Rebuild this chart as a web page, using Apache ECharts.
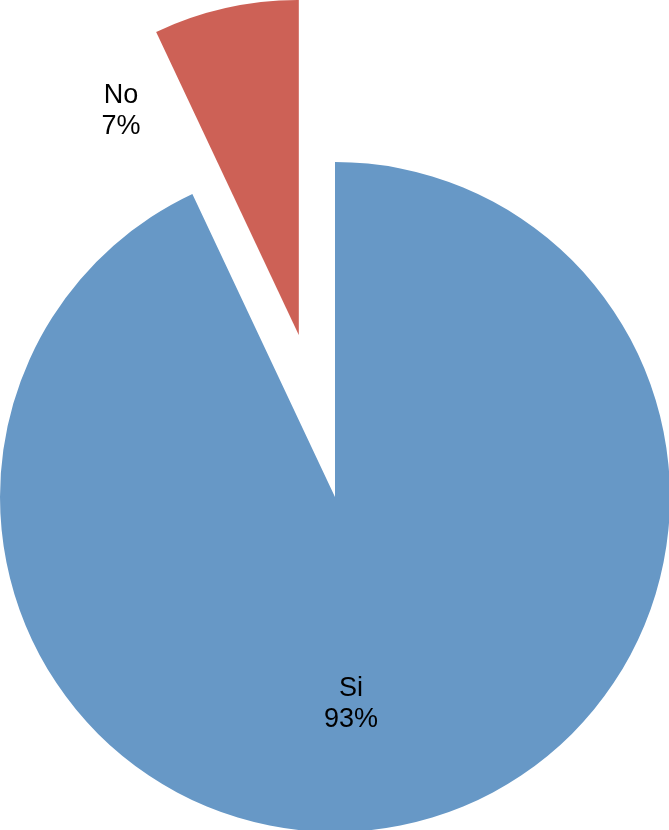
<!DOCTYPE html>
<html>
<head>
<meta charset="utf-8">
<script src="https://cdn.jsdelivr.net/npm/echarts@6/dist/echarts.min.js"></script>
<style>html,body{margin:0;padding:0;background:#fff;}#c{width:669px;height:830px;}</style>
</head>
<body>
<div id="c"></div>
<script>
const categories = ['Si', 'No'];
const values = [93, 7];
const colors = ['#6798C6', '#CD6156'];
const exploded = [false, true];

const labelSpots = [[351, 704], [121, 111]];

const CENTER = [335, 497];
const RADIUS = 335;
const EXPLODE = 166;

const total = values.reduce((a, b) => a + b, 0);
// mid-angle (clockwise from 12 o'clock) of each slice
let acc = 0;
const midAngles = values.map(v => { const m = (acc + v / 2) / total * 2 * Math.PI; acc += v; return m; });

function seriesFor(idx) {
  const off = exploded[idx] ? EXPLODE : 0;
  const c = [CENTER[0] + off * Math.sin(midAngles[idx]), CENTER[1] - off * Math.cos(midAngles[idx])];
  return {
    type: 'pie',
    center: c,
    radius: RADIUS,
    startAngle: 90,
    clockwise: true,
    silent: true,
    emphasis: {disabled: true},
    data: categories.map((name, i) => ({
      name: name, value: values[i],
      itemStyle: {color: i === idx ? colors[i] : 'rgba(0,0,0,0)'},
      label: {show: i === idx}
    })),
    label: {
      show: true,
      position: 'inside',
      formatter: p => p.name + '\n' + Math.round(p.percent) + '%',
      color: '#000',
      fontFamily: 'Liberation Sans, Arial, sans-serif',
      fontSize: 27,
      lineHeight: 31,
      align: 'center'
    },
    labelLine: {show: false},
    labelLayout: function (params) {
      const s = labelSpots[params.dataIndex];
      return {x: s[0], y: s[1], align: 'center', verticalAlign: 'middle'};
    }
  };
}

const chart = echarts.init(document.getElementById('c'), null, {renderer: 'canvas'});
chart.setOption({
  animation: false,
  backgroundColor: '#ffffff',
  series: categories.map((_, i) => seriesFor(i))
});
</script>
</body>
</html>
